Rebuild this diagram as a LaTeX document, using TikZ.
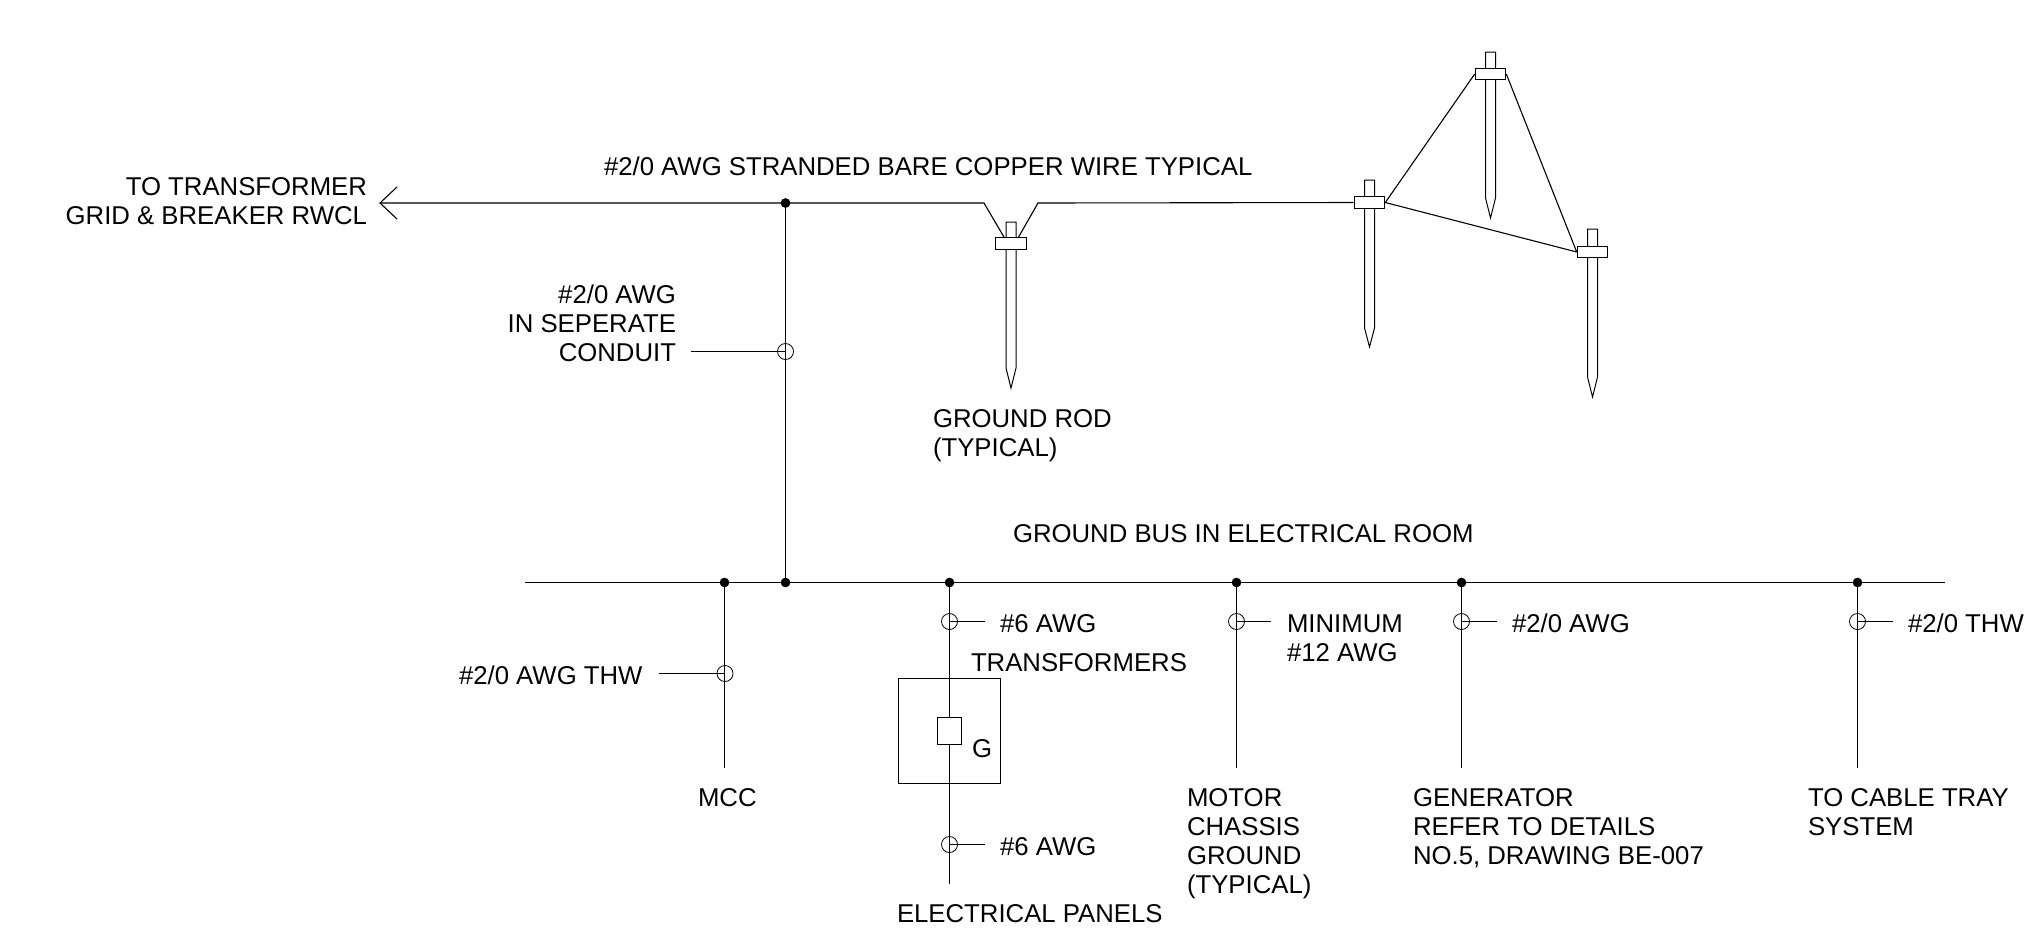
\documentclass[tikz,border=0pt]{standalone}
\usepackage{fontspec}
\setmainfont{Liberation Sans}
\tikzset{
  wire/.style={draw=black,line width=0.55pt},
  junct/.style={circle,fill=black,draw=black,line width=0.3pt,inner sep=0pt,minimum size=4.5pt},
  ring/.style={circle,draw=black,line width=0.4pt,inner sep=0pt,minimum size=8pt},
  clampbox/.style={rectangle,draw=black,fill=white,line width=0.5pt,inner sep=0pt,minimum width=15.3pt,minimum height=5.6pt},
  shaft/.style={draw=black,fill=white,line width=0.5pt},
  lbl/.style={inner sep=0pt,outer sep=0pt,font=\fontsize{12.87}{14.5}\selectfont,text=black},
  lblL/.style={lbl,anchor=base west,align=left},
  lblR/.style={lbl,anchor=base east,align=right},
  frame/.style={rectangle,draw=black,line width=0.5pt,inner sep=0pt}
}
\newcommand{\groundrod}[6]{%
  \draw[shaft] (#2-5,#3) -- (#2+5,#3) -- (#2+5,#5) -- (#2,#6) -- (#2-5,#5) -- cycle;
  \node[clampbox] (#1) at (#2,#4) {};
}
\begin{document}
\begin{tikzpicture}[x=0.5pt,y=-0.5pt]
\useasboundingbox (0,0) rectangle (2034,944);

% ground rods
\groundrod{rodA}{1011}{222}{243.5}{368}{388}
\groundrod{rodB}{1369.5}{180}{202.5}{328}{347}
\groundrod{rodC}{1490.5}{52}{74}{198}{218}
\groundrod{rodD}{1592.5}{229}{252}{377}{397}

% junctions
\node[junct] (jTop) at (785.5,203) {};
\node[junct] (jMcc) at (724.5,582.5) {};
\node[junct] (jBus) at (785.5,582.5) {};
\node[junct] (jXfm) at (949.5,582.5) {};
\node[junct] (jMot) at (1236.5,582.5) {};
\node[junct] (jGen) at (1461.5,582.5) {};
\node[junct] (jTray) at (1857.5,582.5) {};

% free ends
\coordinate (tip) at (380,203);
\coordinate (barbA) at (397,187);
\coordinate (barbB) at (397,219);
\coordinate (kinkL) at (984,203);
\coordinate (kinkR) at (1038,203);
\coordinate (clipL) at (1004.5,238);
\coordinate (clipR) at (1018,238);
\coordinate (busL) at (525,582.5);
\coordinate (busR) at (1945,582.5);
\coordinate (endMcc) at (724.5,768);
\coordinate (endXfm) at (949.5,884);
\coordinate (endMot) at (1236.5,768);
\coordinate (endGen) at (1461.5,768);
\coordinate (endTray) at (1857.5,768);
\coordinate (leadCond) at (691,351.5);
\coordinate (leadMcc) at (659,673.5);
\coordinate (leadXa) at (985,621.5);
\coordinate (leadXb) at (985,844.5);
\coordinate (leadMot) at (1271,621.5);
\coordinate (leadGen) at (1497,621.5);
\coordinate (leadTray) at (1893,621.5);

% main conductor
\draw[wire] (tip) -- (jTop.center) -- (kinkL) -- (clipL);
\draw[wire] (clipR) -- (kinkR) -- (rodB.west);
\draw[wire] (barbA) -- (tip) -- (barbB);
\draw[wire] (rodB.east) -- (rodC.west);
\draw[wire] (rodC.east) -- (rodD.west);
\draw[wire] (rodB.east) -- (rodD.west);
\draw[wire] (jTop.center) -- (jBus.center);

% bus and drops
\draw[wire] (busL) -- (busR);
\draw[wire] (jMcc.center) -- (endMcc);
\node[frame,minimum width=51pt,minimum height=52.5pt] (xfmBox) at (949,730.5) {};
\draw[wire] (jXfm.center) -- (endXfm);
\node[frame,fill=white,minimum width=12pt,minimum height=13.5pt] (xfmCore) at (949.5,730.5) {};
\draw[wire] (jMot.center) -- (endMot);
\draw[wire] (jGen.center) -- (endGen);
\draw[wire] (jTray.center) -- (endTray);

% conduit rings
\node[ring] (rCond) at (785.5,351.5) {};
\node[ring] (rMcc) at (725,673.5) {};
\node[ring] (rXa) at (949.5,621.5) {};
\node[ring] (rXb) at (949.5,844.5) {};
\node[ring] (rMot) at (1236.5,621.5) {};
\node[ring] (rGen) at (1461.5,621.5) {};
\node[ring] (rTray) at (1857.5,621.5) {};

\draw[wire] (leadCond) -- (rCond.center);
\draw[wire] (leadMcc) -- (rMcc.center);
\draw[wire] (rXa.center) -- (leadXa);
\draw[wire] (rXb.center) -- (leadXb);
\draw[wire] (rMot.center) -- (leadMot);
\draw[wire] (rGen.center) -- (leadGen);
\draw[wire] (rTray.center) -- (leadTray);

% labels (a multi-line node's base is that of its last line)
\node[lblL] (tWire) at (604,175) {\#2/0 AWG STRANDED BARE COPPER WIRE TYPICAL};
\node[lblR] (tGrid) at (367,224) {TO TRANSFORMER\\GRID \& BREAKER RWCL};
\node[lblR] (tCond) at (676,361) {\#2/0 AWG\\IN SEPERATE\\CONDUIT};
\node[lblL] (tRod) at (933,456) {GROUND ROD\\(TYPICAL)};
\node[lblL] (tBus) at (1013,542) {GROUND BUS IN ELECTRICAL ROOM};
\node[lblL] (tXa) at (1000,632) {\#6 AWG};
\node[lblL] (tXb) at (1000,855) {\#6 AWG};
\node[lblL] (tXfm) at (971,671) {TRANSFORMERS};
\node[lblL] (tG) at (972,757) {G};
\node[lblL] (tMccW) at (459,684) {\#2/0 AWG THW};
\node[lblL] (tMcc) at (698,806) {MCC};
\node[lblL] (tPanels) at (897,922) {ELECTRICAL PANELS};
\node[lblL] (tMin) at (1287,661) {MINIMUM\\\#12 AWG};
\node[lblL] (tMotor) at (1187,893) {MOTOR\\CHASSIS\\GROUND\\(TYPICAL)};
\node[lblL] (tGenW) at (1512,632) {\#2/0 AWG};
\node[lblL] (tGen) at (1413,864) {GENERATOR\\REFER TO DETAILS\\NO.5, DRAWING BE-007};
\node[lblL] (tTrayW) at (1908,632) {\#2/0 THW};
\node[lblL] (tTray) at (1808,835) {TO CABLE TRAY\\SYSTEM};
\end{tikzpicture}
\end{document}
